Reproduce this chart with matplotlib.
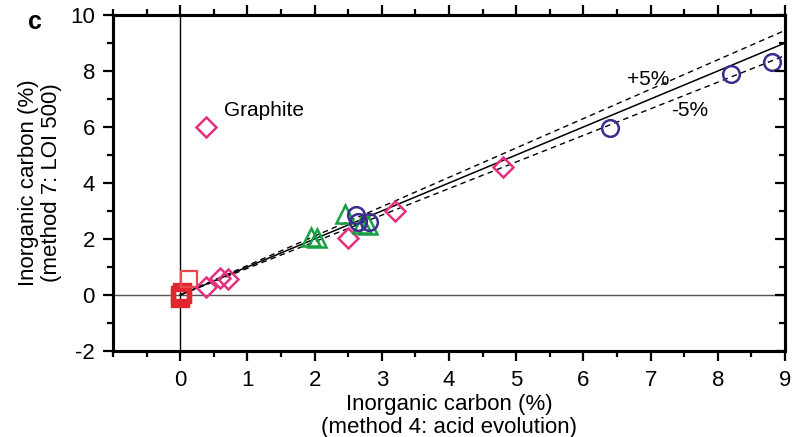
import numpy as np
import matplotlib.pyplot as plt
from matplotlib.ticker import MultipleLocator

plt.rcParams['font.family'] = ['Liberation Sans', 'DejaVu Sans']
plt.rcParams['axes.unicode_minus'] = False

# method 4 (x) vs method 7 (y), inorganic carbon %
sq_x = [0.0, 0.02, 0.0, 0.03, 0.13]
sq_y = [0.0, 0.1, -0.1, 0.05, 0.57]
dia_x = [0.39, 0.38, 0.59, 0.71, 2.5, 3.2, 4.8]
dia_y = [6.0, 0.3, 0.6, 0.57, 2.03, 3.0, 4.57]
tri_x = [1.95, 2.03, 2.45, 2.7, 2.8]
tri_y = [2.08, 2.02, 2.9, 2.55, 2.5]
circ_x = [2.62, 2.64, 2.81, 6.4, 8.2, 8.81]
circ_y = [2.86, 2.6, 2.62, 5.98, 7.89, 8.31]

fit_x = np.array([0.0, 9.0])

fig = plt.figure(figsize=(7.93, 4.37), dpi=100)
ax = fig.add_axes([0.1425, 0.197, 0.8475, 0.7687])

ax.axvline(0, color='black', lw=1, zorder=1)
ax.axhline(0, color='#555555', lw=1, zorder=1)

ax.plot(fit_x, fit_x, color='black', lw=1.1, zorder=2)
ax.plot(fit_x, fit_x * 1.05, color='black', lw=1, ls=(0, (4, 3)), zorder=2)
ax.plot(fit_x, fit_x * 0.95, color='black', lw=1, ls=(0, (4, 3)), zorder=2)

ax.plot(sq_x[:4], sq_y[:4], 's', ms=12, mfc='none', mec='#e0262e', mew=2.4, zorder=3)
ax.plot(sq_x[4:], sq_y[4:], 's', ms=12, mfc='none', mec='#e8474c', mew=1.6, zorder=3)
ax.plot(dia_x, dia_y, 'D', ms=10, mfc='none', mec='#e5307f', mew=1.8, zorder=3)
ax.plot(tri_x, tri_y, '^', ms=13, mfc='none', mec='#17a043', mew=1.8, zorder=3)
ax.plot(circ_x, circ_y, 'o', ms=12, mfc='none', mec='#3d2b8e', mew=1.8, zorder=4)

ax.text(0.65, 6.6, 'Graphite', fontsize=15, ha='left', va='center')
ax.text(6.65, 7.7, '+5%', fontsize=15, ha='left', va='center')
ax.text(7.3, 6.6, '-5%', fontsize=15, ha='left', va='center')
fig.text(0.035, 0.95, 'c', fontsize=18, fontweight='bold', ha='left', va='center')

ax.set_xlim(-1, 9)
ax.set_ylim(-2, 10)
ax.set_xticks(range(0, 10))
ax.set_yticks(range(-2, 11, 2))
ax.xaxis.set_minor_locator(MultipleLocator(0.5))
ax.yaxis.set_minor_locator(MultipleLocator(1))

for s in ax.spines.values():
    s.set_linewidth(2.2)

ax.tick_params(which='both', direction='out', width=1.6, labelsize=16, top=True, right=False)
ax.tick_params(which='major', length=7)
ax.tick_params(which='minor', length=4)
ax.tick_params(axis='x', pad=7)
ax.tick_params(axis='y', pad=6)

# ticks on the right side point inward
ax2 = ax.twinx()
ax2.set_ylim(-2, 10)
ax2.set_yticks(range(-2, 11, 2))
ax2.yaxis.set_minor_locator(MultipleLocator(1))
ax2.tick_params(which='both', direction='in', width=1.6, labelright=False)
ax2.tick_params(which='major', length=7)
ax2.tick_params(which='minor', length=4)
for s in ax2.spines.values():
    s.set_linewidth(2.2)

ax.set_xlabel('Inorganic carbon (%)\n(method 4: acid evolution)', fontsize=16, linespacing=1.1, labelpad=2)
ax.set_ylabel('Inorganic carbon (%)\n(method 7: LOI 500)', fontsize=16, linespacing=1.1, labelpad=6)

fig.savefig('out.png', dpi=100)
